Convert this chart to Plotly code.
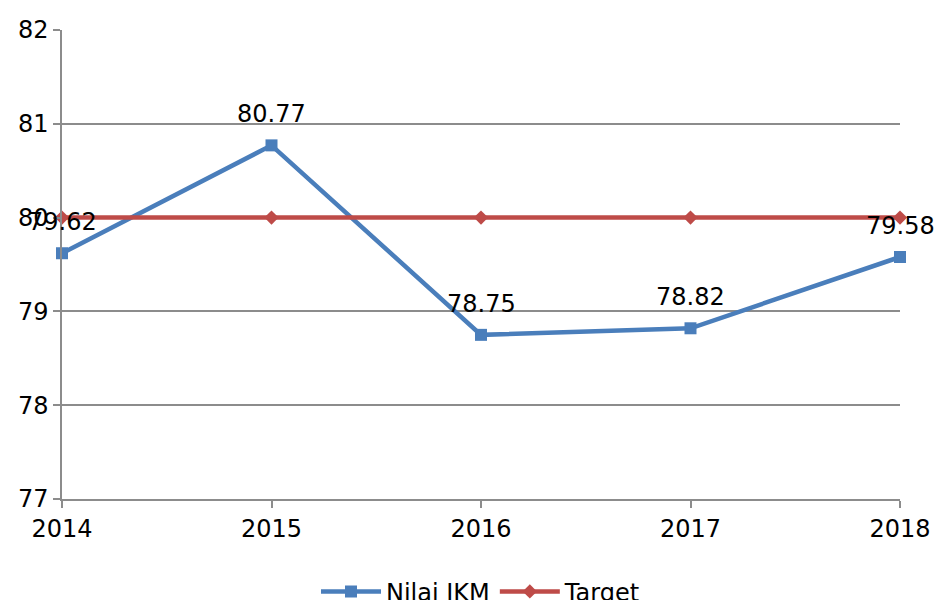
import plotly.graph_objects as go

years = [2014, 2015, 2016, 2017, 2018]
nilai_ikm = [79.62, 80.77, 78.75, 78.82, 79.58]
target = [80, 80, 80, 80, 80]
y_ticks = [77, 78, 79, 80, 81, 82]

blue = "#4A7EBB"
red = "#BE4B48"
grid = "#8C8C8C"
font = "DejaVu Sans"
fs = 24

fig = go.Figure()
fig.add_trace(go.Scatter(
    x=years, y=nilai_ikm, name="Nilai IKM", mode="lines+markers",
    line=dict(color=blue, width=4.5),
    marker=dict(symbol="square", size=12, color=blue),
    cliponaxis=False,
))
fig.add_trace(go.Scatter(
    x=years, y=target, name="Target", mode="lines+markers",
    line=dict(color=red, width=4.5),
    marker=dict(symbol="diamond", size=11, color=red),
    cliponaxis=False,
))
for xv, yv in zip(years, nilai_ikm):
    fig.add_annotation(x=xv, y=yv, text=f"{yv:.2f}", showarrow=False,
                       yshift=31, font=dict(family=font, size=fs, color="#000"))

fig.update_layout(
    width=939, height=600,
    margin=dict(l=62, r=39, t=30, b=101, autoexpand=False),
    paper_bgcolor="white", plot_bgcolor="white",
    font=dict(family=font, size=fs, color="#000"),
    showlegend=True,
    legend=dict(orientation="h", x=0.5, xanchor="center", y=-0.15, yanchor="top",
                font=dict(family=font, size=fs), itemwidth=60),
)
fig.update_xaxes(
    range=[2014, 2018], tickvals=years, ticktext=[str(y) for y in years],
    showline=True, linecolor=grid, linewidth=1.5,
    ticks="outside", ticklen=7, tickcolor=grid, tickwidth=1.5,
    showgrid=False, zeroline=False,
)
fig.update_yaxes(
    range=[77, 82], tickvals=y_ticks,
    showline=True, linecolor=grid, linewidth=1.5,
    ticks="outside", ticklen=7, tickcolor=grid, tickwidth=1.5,
    showgrid=True, gridcolor=grid, gridwidth=1.5, zeroline=False,
)
fig.write_html("out.html")
